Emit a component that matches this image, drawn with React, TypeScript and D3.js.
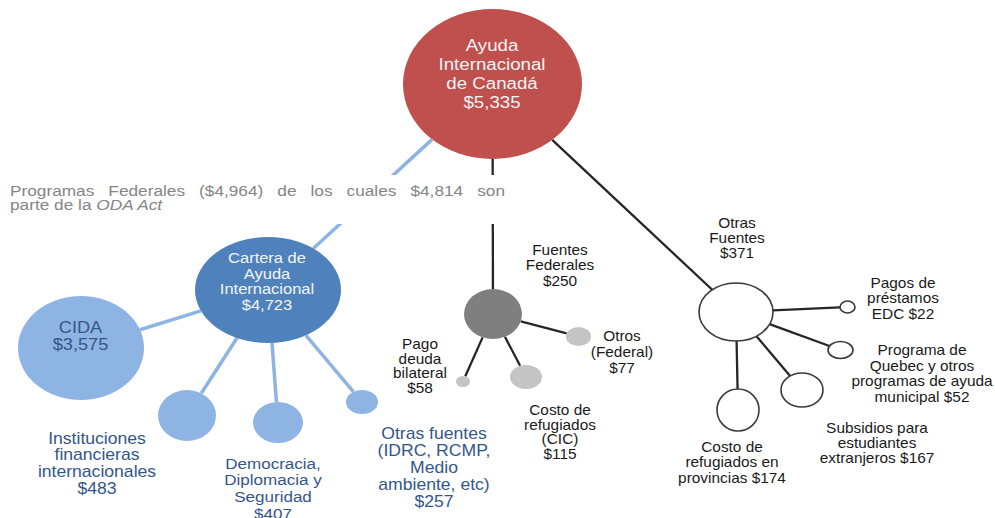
import React, { useEffect, useRef } from 'react';
import * as d3 from 'd3';

const W = 995;
const H = 518;

// nodes of the diagram (index = id)
const nodeNames = [
  'Ayuda Internacional de Canadá',
  'Cartera de Ayuda Internacional',
  'Fuentes Federales',
  'Otras Fuentes',
  'CIDA',
  'Instituciones financieras internacionales',
  'Democracia, Diplomacia y Seguridad',
  'Otras fuentes (IDRC, RCMP, Medio ambiente, etc)',
  'Pago deuda bilateral',
  'Costo de refugiados (CIC)',
  'Otros (Federal)',
  'Pagos de préstamos EDC',
  'Programa de Quebec y otros programas de ayuda municipal',
  'Subsidios para estudiantes extranjeros',
  'Costo de refugiados en provincias',
];
const nodeValues = [5335, 4723, 250, 371, 3575, 483, 407, 257, 58, 115, 77, 22, 52, 167, 174];
const nodeParents = [-1, 0, 0, 0, 1, 1, 1, 1, 2, 2, 2, 3, 3, 3, 3];
// how each label is broken into lines ({v} = value)
const labelLines = [
  ['Ayuda', 'Internacional', 'de Canadá', '{v}'],
  ['Cartera de', 'Ayuda', 'Internacional', '{v}'],
  ['Fuentes', 'Federales', '{v}'],
  ['Otras', 'Fuentes', '{v}'],
  ['CIDA', '{v}'],
  ['Instituciones', 'financieras', 'internacionales', '{v}'],
  ['Democracia,', 'Diplomacia y', 'Seguridad', '{v}'],
  ['Otras fuentes', '(IDRC, RCMP,', 'Medio', 'ambiente, etc)', '{v}'],
  ['Pago', 'deuda', 'bilateral', '{v}'],
  ['Costo de', 'refugiados', '(CIC)', '{v}'],
  ['Otros', '(Federal)', '{v}'],
  ['Pagos de', 'préstamos', 'EDC {v}'],
  ['Programa de', 'Quebec y otros', 'programas de ayuda', 'municipal {v}'],
  ['Subsidios para', 'estudiantes', 'extranjeros {v}'],
  ['Costo de', 'refugiados en', 'provincias {v}'],
];

// note about federal programmes
const federalTotal = 4964;
const federalOda = 4814;

// hand placed layout of the diagram
const layout = [
  { cx: 492.5, cy: 84, rx: 89.5, ry: 75, lx: 492, ly: 51, lh: 19, fs: 17, kind: 'root' },
  { cx: 268, cy: 290, rx: 73, ry: 53, lx: 267, ly: 263, lh: 15.7, fs: 15, kind: 'dark' },
  { cx: 493, cy: 314, rx: 29, ry: 25, lx: 560, ly: 255, lh: 15.5, fs: 14, kind: 'gray' },
  { cx: 736, cy: 312, rx: 37, ry: 29, lx: 737, ly: 228, lh: 15, fs: 14, kind: 'outline' },
  { cx: 81, cy: 348, rx: 63, ry: 52, lx: 80.5, ly: 333, lh: 17.5, fs: 16.5, kind: 'light' },
  { cx: 187, cy: 415.5, rx: 29, ry: 25.5, lx: 97, ly: 443.5, lh: 16.8, fs: 16, kind: 'light' },
  { cx: 278, cy: 422.5, rx: 25, ry: 20.5, lx: 273, ly: 468.5, lh: 16.7, fs: 15.5, kind: 'light' },
  { cx: 362, cy: 402, rx: 16, ry: 12, lx: 434, ly: 438.5, lh: 17.2, fs: 16, kind: 'light' },
  { cx: 463, cy: 381.5, rx: 7, ry: 5.5, lx: 420, ly: 349, lh: 14.7, fs: 14, kind: 'lightgray' },
  { cx: 526, cy: 377, rx: 16, ry: 12, lx: 560, ly: 415, lh: 14.7, fs: 14, kind: 'lightgray' },
  { cx: 578.5, cy: 336.5, rx: 12.5, ry: 9.5, lx: 622, ly: 341, lh: 15.8, fs: 14, kind: 'lightgray' },
  { cx: 847.5, cy: 307, rx: 7.5, ry: 6, lx: 903, ly: 288, lh: 15.5, fs: 14, kind: 'outline' },
  { cx: 840.5, cy: 350, rx: 12.5, ry: 8.5, lx: 922, ly: 355, lh: 15.6, fs: 14, kind: 'outline' },
  { cx: 802, cy: 390, rx: 21, ry: 17, lx: 877, ly: 433, lh: 15, fs: 14, kind: 'outline' },
  { cx: 738, cy: 410, rx: 21, ry: 21, lx: 732, ly: 452, lh: 15.5, fs: 14, kind: 'outline' },
];

const styles: Record<string, { fill: string; stroke: string; text: string; link: string }> = {
  root: { fill: '#c0504d', stroke: 'none', text: '#f4f4f4', link: '#8eb4e3' },
  dark: { fill: '#4f81bd', stroke: 'none', text: '#f4f4f4', link: '#8eb4e3' },
  light: { fill: '#8eb4e3', stroke: 'none', text: '#34568b', link: '#8eb4e3' },
  gray: { fill: '#7f7f7f', stroke: 'none', text: '#1a1a1a', link: '#262626' },
  lightgray: { fill: '#c4c4c4', stroke: 'none', text: '#1a1a1a', link: '#262626' },
  outline: { fill: '#ffffff', stroke: '#3a3a3a', text: '#1a1a1a', link: '#262626' },
};

const FONT = "'Liberation Sans', Arial, sans-serif";
const SX = 1.1; // text in the source is a little wide
const NOTE_SX = 1.15;

const money = d3.format('$,');

function edgePoint(a: any, b: any) {
  const dx = b.cx - a.cx;
  const dy = b.cy - a.cy;
  const t = 1 / Math.sqrt((dx / a.rx) ** 2 + (dy / a.ry) ** 2);
  return [a.cx + dx * t, a.cy + dy * t];
}

const App = () => {
  const ref = useRef<SVGSVGElement>(null);

  useEffect(() => {
    const svg = d3.select(ref.current);
    svg.selectAll('*').remove();

    const nodes = nodeNames.map((name, i) => ({
      name,
      value: nodeValues[i],
      parent: nodeParents[i],
      lines: labelLines[i].map(l => l.replace('{v}', money(nodeValues[i]))),
      ...layout[i],
    }));

    const links = nodes.filter(n => n.parent >= 0).map(n => {
      const p = nodes[n.parent];
      return { source: edgePoint(p, n), target: edgePoint(n, p), color: styles[n.kind].link, kind: n.kind };
    });

    // links
    svg.append('g')
      .selectAll('line')
      .data(links)
      .join('line')
      .attr('x1', d => d.source[0])
      .attr('y1', d => d.source[1])
      .attr('x2', d => d.target[0])
      .attr('y2', d => d.target[1])
      .attr('stroke', d => d.color)
      .attr('stroke-width', d => (d.kind === 'dark' || d.kind === 'light' ? 3.5 : 2.3));

    // note text, on a white box that breaks the links
    const note = svg.append('g');
    note.append('rect')
      .attr('x', 0).attr('y', 175).attr('width', 514).attr('height', 49)
      .attr('fill', '#ffffff');

    const words = ['Programas', 'Federales', `(${money(federalTotal)})`, 'de', 'los', 'cuales', money(federalOda), 'son'];
    const left = 10;
    const right = 505;
    const wordNodes = words.map(w =>
      note.append('text')
        .attr('font-family', FONT)
        .attr('font-size', 15)
        .attr('fill', '#858585')
        .text(w)
    );
    const widths = wordNodes.map(t => (t.node() as SVGTextElement).getComputedTextLength() * NOTE_SX);
    const gap = (right - left - d3.sum(widths)) / (words.length - 1);
    let x = left;
    wordNodes.forEach((t, i) => {
      t.attr('transform', `translate(${x},196) scale(${NOTE_SX},1)`);
      x += widths[i] + gap;
    });
    const line2 = note.append('text')
      .attr('font-family', FONT)
      .attr('font-size', 15)
      .attr('fill', '#858585')
      .attr('transform', `translate(${left},210) scale(${NOTE_SX},1)`);
    line2.append('tspan').text('parte de la ');
    line2.append('tspan').attr('font-style', 'italic').text('ODA Act');

    // bubbles
    svg.append('g')
      .selectAll('ellipse')
      .data(nodes)
      .join('ellipse')
      .attr('cx', d => d.cx)
      .attr('cy', d => d.cy)
      .attr('rx', d => d.rx)
      .attr('ry', d => d.ry)
      .attr('fill', d => styles[d.kind].fill)
      .attr('stroke', d => styles[d.kind].stroke)
      .attr('stroke-width', 1.6);

    // labels
    const labels = svg.append('g')
      .selectAll('text')
      .data(nodes)
      .join('text')
      .attr('font-family', FONT)
      .attr('font-size', d => d.fs)
      .attr('fill', d => styles[d.kind].text)
      .attr('text-anchor', 'middle')
      .attr('transform', d => `translate(${d.lx},${d.ly}) scale(${SX},1)`);

    labels.selectAll('tspan')
      .data(d => d.lines.map((l, i) => ({ l, i, lh: d.lh })))
      .join('tspan')
      .attr('x', 0)
      .attr('y', d => d.i * d.lh)
      .text(d => d.l);
  }, []);

  return (
    <svg
      ref={ref}
      width={W}
      height={H}
      style={{ position: 'absolute', left: 0, top: 0, background: '#ffffff', display: 'block' }}
    />
  );
};

export default App;
